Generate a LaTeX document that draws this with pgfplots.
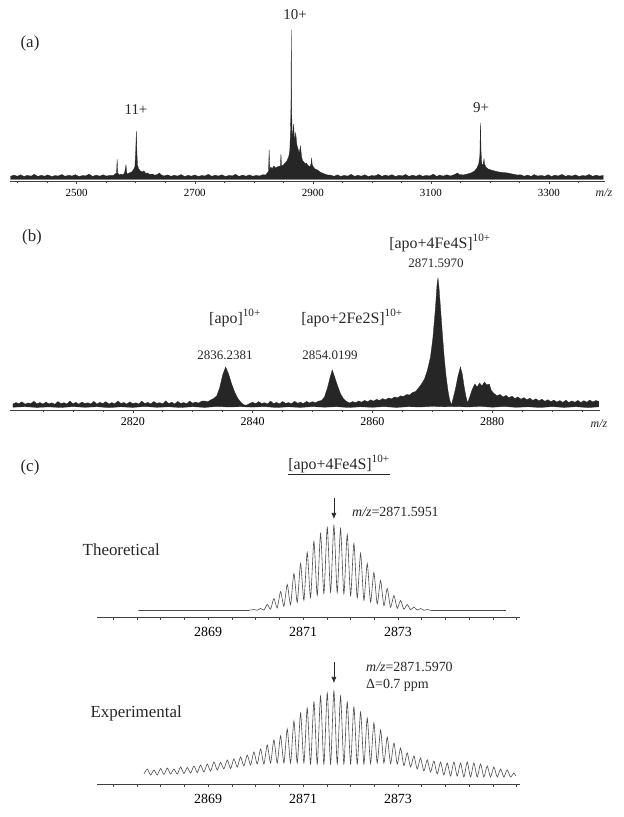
\documentclass[border=0pt]{standalone}
\usepackage{fontspec}
\setmainfont{Liberation Serif}
\usepackage{pgfplots}
\pgfplotsset{compat=1.18}
\usetikzlibrary{arrows.meta}
\pgfplotsset{
  msaxis/.style={
    scale only axis, anchor=south west,
    axis x line=bottom, axis y line=none,
    x axis line style={-, black!75, line width=0.6bp},
    ymin=0, clip=false,
    xtick align=outside,
    major tick length=3bp, minor tick length=2.5bp,
    every tick/.style={black!75, line width=0.5bp},
    ytick=\empty,
  }
}
\begin{document}
\begin{tikzpicture}
\path[use as bounding box] (0bp,0bp) rectangle (624bp,817bp);

% ---------------- (a) ----------------
\begin{axis}[msaxis, at={(10bp,636bp)}, width=595bp, height=165bp,
  xmin=2387, xmax=3395, ymax=165,
  xtick={2500,2700,2900,3100,3300}, xticklabels={2500,2700,2900,3100,3300},
  minor xtick={2400,2450,...,3350},
  xticklabel style={font=\fontsize{11}{13}\selectfont, anchor=center, yshift=-9bp}]
\addplot[draw=black!85, fill=black!85, line width=0.3bp] coordinates {
(2388,1.5)
(2388,4.8)(2394,5.9)(2399,4.7)(2405,6.2)(2411,4.5)(2416,5.6)(2423,4.9)(2428,6.7)(2434,4.6)(2440,5.7)(2446,4.8)(2451,6.1)(2458,4.4)(2463,5.4)(2469,5.0)(2475,6.5)(2480,4.7)(2487,5.8)(2492,4.9)(2498,6.3)(2504,4.5)(2510,5.5)(2515,5.1)(2521,6.8)(2527,4.6)(2533,5.9)(2539,4.8)(2545,6.2)(2550,4.9)(2556,5.6)
(2562,5.5)(2565,7)(2567.5,8)(2568.5,21.7)(2569.5,8)(2572,6)(2575,7)(2578,6)(2581,8)(2583.5,16)(2585,7)(2589,8)(2593,9)(2596,11)(2598.5,14)(2600,30)(2601,50)(2602,28)(2603,16)(2605,12)(2608,10)(2611,9)(2614,10)(2617,7.5)(2620,8)(2624,6.5)(2628,7)
(2632,5.8)(2637,6.5)(2640,8)(2643,6.2)(2648,5.0)(2654,6.1)(2660,4.7)(2665,5.8)(2671,4.9)(2677,6.4)(2683,4.5)(2689,5.7)(2694,4.8)(2700,6.0)(2706,4.6)(2712,5.5)(2717,5.0)(2723,6.6)(2729,4.7)(2735,5.8)(2740,4.9)(2746,6.2)(2752,4.5)(2758,5.6)(2764,5.1)(2769,6.7)(2775,4.6)(2781,5.9)(2787,4.8)(2793,6.1)(2798,4.7)(2804,5.6)(2810,5.0)(2815,6.3)
(2820,6)(2823,8)(2825,10)(2826,31)(2827,12)(2829,14)(2831,12)(2834,15)(2837,13)(2840,14)(2843,15)(2845,14)(2846,27)(2847,15)(2850,16)(2853,18)(2856,20)(2859,24)(2861,30)(2862.2,50)(2863,75)(2863.5,151)(2864,75)(2865,48)(2866,45)(2867.5,57)(2869,40)(2871,48)(2873,36)(2875,32)(2877,28)(2879,35)(2881,24)(2883,20)(2885,19)(2887,17)(2889,18)(2891,16)(2893,15)(2895,14)(2897,17)(2898,23)(2899,16)(2901,14)(2904,12)(2908,11)(2912,9)(2916,8)(2920,7)(2925,6)
(2930,5.9)(2936,4.7)(2942,6.2)(2947,4.6)(2953,5.6)(2959,4.9)(2965,6.6)(2971,4.6)(2976,5.8)(2982,4.8)(2988,6.2)(2994,4.5)(3000,5.5)(3005,5.0)(3011,6.7)(3017,4.7)(3023,5.9)(3028,4.9)(3034,6.3)(3040,4.5)(3046,5.7)(3052,5.1)(3057,6.5)(3063,4.6)(3069,5.8)(3075,4.8)(3081,6.2)(3086,4.7)(3092,5.6)(3098,5.0)(3104,6.8)(3110,4.6)(3115,5.9)(3121,4.9)(3127,6.2)(3133,5.0)
(3138,6)(3142,7)(3145,8)(3148,6.5)(3155,6)(3162,7)(3168,8)(3174,10)(3178,13)(3181,17)(3183,25)(3184,58)(3185,30)(3186,18)(3188,15)(3190,22)(3191,17)(3193,14)(3197,12)(3202,11)(3208,10)(3215,9)(3222,8.5)(3230,8)(3238,7)(3246,6)
(3252,6.2)(3258,4.8)(3264,5.9)(3270,4.6)(3275,6.4)(3281,4.9)(3287,5.6)(3293,4.7)(3299,6.3)(3304,4.5)(3310,5.8)(3316,5.0)(3322,6.6)(3328,4.7)(3333,5.7)(3339,4.9)(3345,6.1)(3351,4.6)(3357,5.5)(3362,5.0)(3368,6.5)(3374,4.7)(3380,5.8)(3386,4.9)(3392,5.6)(3392,1.5)
} -- cycle;
\end{axis}

% ---------------- (b) ----------------
\begin{axis}[msaxis, at={(10bp,407bp)}, width=590bp, height=150bp,
  xmin=2799.5, xmax=2898, ymax=150,
  xtick={2820,2840,2860,2880}, xticklabels={2820,2840,2860,2880},
  minor xtick={2805,2810,...,2895},
  xticklabel style={font=\fontsize{12}{14}\selectfont, anchor=center, yshift=-9bp}]
\addplot[draw=black!85, fill=black!85, line width=0.3bp] coordinates {
(2800,6.0)(2800.5,7.4)(2801,6.3)(2801.5,8.2)(2802,5.8)(2802.5,7.0)(2803,6.6)(2803.5,8.7)(2804,6.1)(2804.5,7.5)(2805,5.9)(2805.5,7.9)
(2806,6.2)(2806.5,7.1)(2807,5.7)(2807.5,8.4)(2808,6.4)(2808.5,7.3)(2809,6.0)(2809.5,8.9)(2810,6.3)(2810.5,7.6)(2811,5.8)(2811.5,8.0)
(2812,6.5)(2812.5,7.2)(2813,6.1)(2813.5,8.6)(2814,5.9)(2814.5,7.7)(2815,6.4)(2815.5,8.3)(2816,6.0)(2816.5,7.4)(2817,6.2)(2817.5,9.0)
(2818,6.6)(2818.5,7.5)(2819,5.9)(2819.5,8.1)(2820,6.3)(2820.5,7.2)(2821,6.0)(2821.5,8.8)(2822,6.5)(2822.5,7.6)(2823,6.1)(2823.5,8.4)
(2824,6.7)(2824.5,7.3)(2825,6.2)(2825.5,9.1)(2826,6.4)(2826.5,7.8)(2827,6.0)(2827.5,8.5)(2828,6.6)(2828.5,7.4)(2829,6.3)(2829.5,8.9)
(2830,6.8)(2830.5,7.9)(2831,6.9)(2831.5,8.8)
(2832,9.0)(2832.5,8.2)(2833,10.0)(2833.5,11.5)(2834,14)(2834.5,22)(2835,35)(2835.5,43)(2836,36)(2836.5,26)(2837,18)(2837.5,12)(2838,8)(2838.5,5.2)(2839,4.8)(2839.5,6.5)(2840,7.8)
(2840.5,6.2)(2841,8.4)(2841.5,6.5)(2842,7.3)(2842.5,6.0)(2843,8.9)(2843.5,6.4)(2844,7.6)(2844.5,6.1)(2845,8.5)(2845.5,6.6)(2846,7.4)(2846.5,6.2)(2847,8.7)(2847.5,6.8)(2848,7.7)(2848.5,6.4)(2849,8.6)(2849.5,7.0)(2850,8.3)(2850.5,7.2)
(2851,8.8)(2851.5,9.5)(2852,13)(2852.5,22)(2853,34)(2853.3,40)(2853.7,33)(2854.2,24)(2854.7,16)(2855.2,11)(2855.7,8.5)(2856.2,7.0)
(2856.7,8.4)(2857.2,7.3)(2857.7,9.0)(2858.2,7.8)(2858.7,9.6)(2859.2,8.2)(2859.7,10.1)(2860.2,8.9)(2860.7,10.6)(2861.2,9.5)(2861.7,11.4)(2862.2,10.2)(2862.7,12.0)(2863.2,11.1)(2863.7,13.0)(2864.2,12.2)(2864.7,14.1)(2865.2,13.5)(2865.7,15.5)(2866.2,15.0)(2866.7,17.5)(2867.2,18.5)(2867.7,22)(2868.2,26)(2868.7,31)(2869.2,40)(2869.7,53)(2870.1,72)(2870.5,100)(2870.8,126)(2870.95,132)(2871.1,124)(2871.4,100)(2871.7,75)(2872.0,52)(2872.3,34)(2872.6,20)(2872.9,10)(2873.2,5)(2873.5,12)(2873.9,22)(2874.3,34)(2874.7,43)(2875.0,36)(2875.3,24)(2875.6,14)(2875.9,7)(2876.3,14)(2876.7,21)(2877.1,26)(2877.5,23)(2877.9,27)(2878.3,24)(2878.7,28)(2879.1,25)(2879.5,26)(2879.9,19)
(2880.3,16.5)(2880.8,14.2)(2881.3,15.5)(2881.8,13.0)(2882.3,14.6)(2882.8,12.2)(2883.3,13.8)(2883.8,11.5)(2884.3,13.0)(2884.8,10.8)(2885.3,12.4)(2885.8,10.2)(2886.3,11.8)(2886.8,9.6)(2887.3,11.2)(2887.8,9.1)(2888.3,10.8)(2888.8,8.7)(2889.3,10.3)(2889.8,8.3)(2890.3,9.9)(2890.8,7.9)(2891.3,9.4)(2891.8,7.6)(2892.3,9.8)(2892.8,7.5)(2893.3,9.1)(2893.8,7.7)(2894.3,9.6)(2894.8,7.4)(2895.3,9.3)(2895.8,7.8)(2896.3,10.0)(2896.8,8.0)(2897.3,9.5)(2897.8,8.6)
(2897.8,3.2)(2896,2.4)(2894,3.3)(2892,2.6)(2890,3.4)(2888,2.5)(2886,3.2)(2884,2.7)(2882,3.5)(2880,2.8)(2878,3.6)(2876,3.0)(2874,3.4)(2872,3.2)(2870,3.6)(2868,3.0)(2866,3.3)(2864,2.6)(2862,3.4)(2860,2.7)(2858,3.2)(2856,2.5)(2854,3.3)(2852,2.8)(2850,3.4)(2848,2.6)(2846,3.2)(2844,2.5)(2842,3.4)(2840,2.9)(2838,3.3)(2836,3.0)(2834,3.5)(2832,2.6)(2830,3.3)(2828,2.5)(2826,3.2)(2824,2.7)(2822,3.5)(2820,2.6)(2818,3.2)(2816,2.4)(2814,3.3)(2812,2.7)(2810,3.4)(2808,2.5)(2806,3.1)(2804,2.6)(2802,3.3)(2800,2.8)
} -- cycle;
\end{axis}

% ---------------- (c) theoretical ----------------
\begin{axis}[msaxis, at={(97bp,200bp)}, width=423bp, height=130bp,
  xmin=2866.66, xmax=2875.57, ymax=130,
  xtick={2869,2871,2873}, xticklabels={2869,2871,2873},
  minor xtick={2867,2867.5,...,2875.5},
  minor tick length=3bp,
  xticklabel style={font=\fontsize{14}{16}\selectfont, anchor=center, yshift=-12bp}]
\addplot[black!70, line width=0.6bp, smooth, tension=0.4] coordinates {
(2867.53,6.5)(2869.70,6.5)(2869.85,6.6)
(2869.965,7.5)(2870.035,6.7)(2870.106,8.5)(2870.176,6.9)(2870.246,12.5)(2870.316,7.8)
(2870.386,18.5)(2870.456,9.1)(2870.527,25.5)(2870.597,10.7)(2870.667,32.5)(2870.737,12.2)
(2870.808,43.5)(2870.878,14.6)(2870.948,53.5)(2871.018,16.8)(2871.088,64.5)(2871.158,19.3)
(2871.229,75.5)(2871.299,21.7)(2871.369,83.5)(2871.439,23.5)(2871.510,89.5)(2871.580,24.8)
(2871.650,91.5)(2871.720,24.5)(2871.790,88.5)(2871.860,23.2)(2871.931,82.5)(2872.001,21.2)
(2872.071,73.5)(2872.141,19)(2872.212,63.5)(2872.282,16.8)(2872.352,53.5)(2872.422,14.9)
(2872.492,44.5)(2872.562,13.1)(2872.633,36.5)(2872.703,11.3)(2872.773,28.5)(2872.843,9.8)
(2872.914,21.5)(2872.984,8.7)(2873.054,16.5)(2873.124,7.8)(2873.194,12.5)(2873.264,7.3)
(2873.335,10)(2873.405,6.9)(2873.475,8.5)(2873.545,6.7)(2873.616,7.5)(2873.686,6.6)
(2873.85,6.5)(2875.27,6.5)
};
\draw[-{Latex[length=6bp,width=5bp]}, black!85, line width=0.6bp] (axis cs:2871.65,119) -- (axis cs:2871.65,98);
\end{axis}

% ---------------- (c) experimental ----------------
\begin{axis}[msaxis, at={(97bp,33bp)}, width=423bp, height=130bp,
  xmin=2866.66, xmax=2875.57, ymax=130,
  xtick={2869,2871,2873}, xticklabels={2869,2871,2873},
  minor xtick={2867,2867.5,...,2875.5},
  minor tick length=3bp,
  xticklabel style={font=\fontsize{14}{16}\selectfont, anchor=center, yshift=-12bp}]
\addplot[black!70, line width=0.6bp, smooth, tension=0.4] coordinates {
(2867.65,10)
(2867.719,15)(2867.789,9)(2867.859,14)(2867.929,9)(2868.000,15.5)(2868.070,9.5)(2868.140,16)(2868.210,10)
(2868.280,15)(2868.351,10)(2868.421,17)(2868.491,10.5)(2868.561,16.5)(2868.631,11)(2868.702,18)(2868.772,11.5)
(2868.842,19)(2868.912,12)(2868.982,20)(2869.052,13)(2869.123,22)(2869.193,14)(2869.263,21.5)(2869.333,15)
(2869.404,24)(2869.474,15.5)(2869.544,25)(2869.614,17)(2869.684,27)(2869.754,18)(2869.825,29)(2869.895,19)
(2869.965,32)(2870.035,20)(2870.106,35)(2870.176,20)(2870.246,39)(2870.316,21)(2870.386,44)(2870.456,21)
(2870.527,48)(2870.597,21)(2870.667,55)(2870.737,21)(2870.808,63)(2870.878,21)(2870.948,71)(2871.018,21)
(2871.088,76)(2871.158,20)(2871.229,82)(2871.299,20)(2871.369,88)(2871.439,20)(2871.510,91)(2871.580,20)
(2871.650,93)(2871.720,20)(2871.790,88)(2871.860,20)(2871.931,82)(2872.001,20)(2872.071,77)(2872.141,20)
(2872.212,72)(2872.282,20)(2872.352,66)(2872.422,20.5)(2872.492,61)(2872.562,21)(2872.633,54)(2872.703,21)
(2872.773,47)(2872.843,20.5)(2872.914,41)(2872.984,20)(2873.054,36)(2873.124,18.5)(2873.194,31)(2873.264,17)
(2873.335,28)(2873.405,15)(2873.475,26)(2873.545,13)(2873.616,24)(2873.686,12)(2873.756,23)(2873.826,10)
(2873.896,22)(2873.966,9)(2874.037,21)(2874.107,8)(2874.177,22)(2874.247,8)(2874.318,21)(2874.388,7)
(2874.458,22)(2874.528,7)(2874.598,21)(2874.668,7)(2874.739,20)(2874.809,7)(2874.879,18)(2874.949,7)
(2875.020,17)(2875.090,7)(2875.160,15)(2875.230,7)(2875.300,14)(2875.370,7)(2875.441,11)(2875.48,8)
};
\draw[-{Latex[length=6bp,width=5bp]}, black!85, line width=0.6bp] (axis cs:2871.65,122) -- (axis cs:2871.65,101);
\end{axis}

% ---------------- texts ----------------
\begin{scope}[x=1bp, y=1bp, every node/.style={text=black!85, inner sep=0pt}]
\node[font=\fontsize{17}{20}\selectfont] at (30,774) {(a)};
\node[font=\fontsize{15}{18}\selectfont] at (295,802) {10+};
\node[font=\fontsize{15}{18}\selectfont] at (136,707) {11+};
\node[font=\fontsize{15}{18}\selectfont] at (481,709) {9+};
\node[font=\fontsize{12}{14}\itshape] at (604,624) {m/z};

\node[font=\fontsize{17}{20}\selectfont] at (32,580) {(b)};
\node[font=\fontsize{16}{19}\selectfont] at (440,574) {[apo+4Fe4S]\textsuperscript{10+}};
\node[font=\fontsize{13}{15}\selectfont] at (436,554) {2871.5970};
\node[font=\fontsize{16}{19}\selectfont] at (235,499) {[apo]\textsuperscript{10+}};
\node[font=\fontsize{16}{19}\selectfont] at (352,499) {[apo+2Fe2S]\textsuperscript{10+}};
\node[font=\fontsize{13}{15}\selectfont] at (225,462) {2836.2381};
\node[font=\fontsize{13}{15}\selectfont] at (330,462) {2854.0199};
\node[font=\fontsize{12}{14}\itshape] at (599,393) {m/z};

\node[font=\fontsize{17}{20}\selectfont] at (30,350) {(c)};
\node[font=\fontsize{16}{19}\selectfont] at (339,352) {\underline{[apo+4Fe4S]\textsuperscript{10+}}};
\node[font=\fontsize{17}{20}\selectfont, anchor=east] at (160,267) {Theoretical};
\node[font=\fontsize{17}{20}\selectfont, anchor=east] at (182,104) {Experimental};
\node[font=\fontsize{14}{16}\selectfont, anchor=west] at (352,305) {\textit{m/z}=2871.5951};
\node[font=\fontsize{14}{16}\selectfont, anchor=west] at (366,150) {\textit{m/z}=2871.5970};
\node[font=\fontsize{14}{16}\selectfont, anchor=west] at (366,132) {Δ=0.7 ppm};
\end{scope}
\end{tikzpicture}
\end{document}
